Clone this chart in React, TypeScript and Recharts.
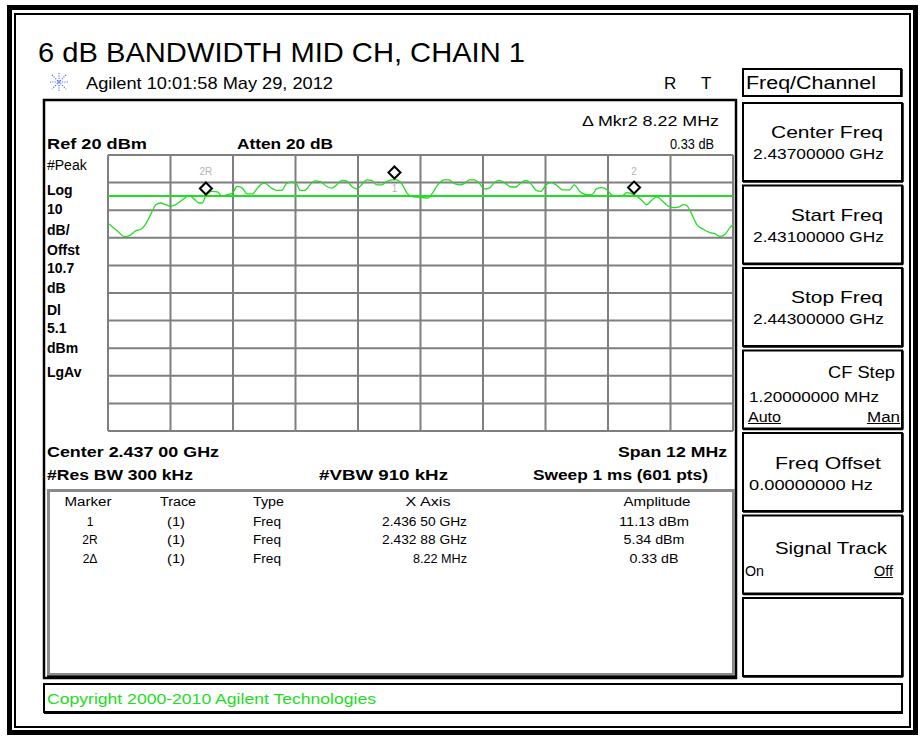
import React from 'react';
import { ComposedChart, Line, Scatter, XAxis, YAxis, ReferenceLine } from 'recharts';

// trace (frequency in GHz, amplitude in dBm)
const freqGHz = [
  2.431, 2.43118, 2.43131, 2.4314, 2.43153, 2.43163, 2.43172, 2.43182, 2.43192, 2.43201,
  2.43211, 2.4322, 2.4323, 2.43243, 2.43256, 2.43265, 2.43275, 2.43281, 2.43288, 2.433,
  2.4331, 2.43319, 2.43329, 2.43339, 2.43348, 2.43358, 2.43367, 2.43377, 2.43387, 2.43396,
  2.43401, 2.43414, 2.43424, 2.43434, 2.43443, 2.43453, 2.43462, 2.43469, 2.43478, 2.43488,
  2.43497, 2.43507, 2.4352, 2.4353, 2.43539, 2.43549, 2.43558, 2.43568, 2.43578, 2.43587,
  2.43597, 2.43606, 2.43616, 2.43626, 2.43635, 2.43645, 2.4365, 2.43659, 2.43664, 2.43674,
  2.43683, 2.43693, 2.43703, 2.43714, 2.43723, 2.43733, 2.43746, 2.43755, 2.43765, 2.43775,
  2.43784, 2.43794, 2.43803, 2.43813, 2.43823, 2.43832, 2.43842, 2.43851, 2.43861, 2.43874,
  2.43883, 2.43893, 2.43903, 2.43912, 2.43922, 2.43931, 2.43941, 2.43951, 2.4396, 2.43973,
  2.43986, 2.43995, 2.44006, 2.44019, 2.44029, 2.44038, 2.44048, 2.44058, 2.44067, 2.44077,
  2.44086, 2.44096, 2.4411, 2.44125, 2.44134, 2.44144, 2.44154, 2.44163, 2.44173, 2.44185,
  2.44195, 2.44205, 2.44211, 2.44221, 2.4423, 2.44243, 2.44256, 2.44265, 2.44275, 2.44285,
  2.44294, 2.443,
];
const traceDbm = [
  -4.7, -7.5, -9.5, -9.3, -7.5, -6.9, -5.1, -1.5, 2.0, 2.6,
  2.0, 1.4, 2.0, 3.8, 5.3, 4.1, 2.6, 2.6, 5.34, 6.8,
  6.6, 5.0, 5.6, 6.2, 8.6, 8.0, 5.9, 5.9, 8.0, 9.6,
  9.8, 8.0, 7.2, 7.2, 9.8, 10.2, 9.6, 7.2, 7.2, 9.2,
  10.6, 10.4, 8.6, 8.0, 9.2, 10.8, 10.6, 8.6, 7.7, 9.2,
  11.0, 10.8, 9.2, 9.2, 10.4, 11.0, 11.13, 10.6, 9.6, 6.2,
  5.0, 4.7, 4.6, 4.4, 6.2, 9.2, 11.0, 11.0, 9.6, 9.2,
  9.6, 11.0, 11.0, 9.8, 7.7, 8.0, 10.0, 10.8, 10.0, 8.4,
  8.4, 10.0, 10.8, 9.6, 7.2, 6.8, 9.2, 10.0, 9.2, 7.4,
  7.4, 9.2, 6.8, 5.6, 5.6, 7.7, 8.2, 7.4, 5.6, 5.0,
  5.0, 6.4, 5.67, 3.6, 2.0, 3.6, 4.8, 3.6, 1.8, 0.9,
  1.1, 2.0, 1.7, -1.5, -5.1, -6.9, -8.1, -8.5, -9.5, -8.7,
  -6.3, -5.4,
];

const xGridTicks = [2.431, 2.4322, 2.4334, 2.4346, 2.4358, 2.437, 2.4382, 2.4394, 2.4406, 2.4418, 2.443];
const yGridTicks = [20, 10, 0, -10, -20, -30, -40, -50, -60, -70, -80];
const displayLineDbm = 5.1;

const markerNames = ['1', '2R', '2'];
const markerFreqGHz = [2.4365, 2.43288, 2.4411];
const markerDbm = [11.13, 5.34, 5.67];

const tableHeaders = ['Marker', 'Trace', 'Type', 'X Axis', 'Amplitude'];
const tableMarker = ['1', '2R', '2Δ'];
const tableTrace = ['(1)', '(1)', '(1)'];
const tableType = ['Freq', 'Freq', 'Freq'];
const tableXAxis = ['2.436 50 GHz', '2.432 88 GHz', '8.22 MHz'];
const tableAmplitude = ['11.13 dBm', '5.34 dBm', '0.33 dB'];

const leftLabels = ['#Peak', 'Log', '10', 'dB/', 'Offst', '10.7', 'dB', 'Dl', '5.1', 'dBm', 'LgAv'];
const leftBaselines = [170, 195, 214, 235, 255, 273, 293, 315, 333, 353, 377];

const softkeyTitles = ['Center Freq', 'Start Freq', 'Stop Freq', 'CF Step', 'Freq Offset', 'Signal Track', ''];
const softkeyValues = ['2.43700000 GHz', '2.43100000 GHz', '2.44300000 GHz', '1.20000000 MHz', '0.00000000  Hz', '', ''];

const traceData = freqGHz.map((f, i) => ({ f, a: traceDbm[i] }));
const markerData = markerNames.map((name, i) => ({ f: markerFreqGHz[i], a: markerDbm[i], name }));

const FONT = '"Liberation Sans", Arial, sans-serif';
const GREEN = '#22dd22';
const GRID = '#7f7f7f';

// rough text widths in the screenshot, so the wide instrument font lines up
const xAxisW = [85, 85, 54];
const ampW = [70, 61, 49];

function Txt({ x, y, size = 13, w, anchor = 'start', bold = false, fill = '#000', children }: any) {
  return (
    <text
      x={x}
      y={y}
      fontSize={size}
      fontFamily={FONT}
      fontWeight={bold ? 700 : 400}
      textAnchor={anchor}
      fill={fill}
      textLength={w}
      lengthAdjust={w ? 'spacingAndGlyphs' : undefined}
    >
      {children}
    </text>
  );
}

function MarkerShape(props: any) {
  const { cx, cy, payload } = props;
  const dy = cy - 7;
  const below = payload.name === '1';
  return (
    <g>
      <polygon
        points={`${cx},${dy - 6} ${cx + 6},${dy} ${cx},${dy + 6} ${cx - 6},${dy}`}
        fill="#fff"
        stroke="#000"
        strokeWidth={2}
      />
      <text x={cx} y={below ? dy + 20 : dy - 13} textAnchor="middle" fontSize={10} fontFamily={FONT} fill="#b4b4b4">
        {payload.name}
      </text>
    </g>
  );
}

function Softkey({ i }: { i: number }) {
  const top = 103 + i * 82.5;
  const title = softkeyTitles[i];
  const value = softkeyValues[i];
  return (
    <g>
      <rect x={743} y={top} width={159} height={78} fill="#fff" stroke="#000" strokeWidth={2} />
      <line x1={903} y1={top} x2={903} y2={top + 79} stroke="#000" strokeWidth={1.5} />
      <line x1={743} y1={top + 79} x2={903} y2={top + 79} stroke="#000" strokeWidth={1.5} />
      {title === 'CF Step' && (
        <>
          <Txt x={895} y={top + 27} size={17} anchor="end" w={67}>{title}</Txt>
          <Txt x={749} y={top + 51} size={14} w={130}>{value}</Txt>
          <Txt x={748} y={top + 71} size={14} w={33}>Auto</Txt>
          <line x1={748} y1={top + 73} x2={781} y2={top + 73} stroke="#000" strokeWidth={1} />
          <Txt x={900} y={top + 71} size={14} anchor="end" w={33}>Man</Txt>
          <line x1={867} y1={top + 73} x2={900} y2={top + 73} stroke="#000" strokeWidth={1} />
        </>
      )}
      {title === 'Signal Track' && (
        <>
          <Txt x={831} y={top + 38} size={17} anchor="middle" w={112}>{title}</Txt>
          <Txt x={745} y={top + 60} size={14} w={19}>On</Txt>
          <Txt x={893} y={top + 60} size={14} anchor="end" w={19}>Off</Txt>
          <line x1={874} y1={top + 62} x2={893} y2={top + 62} stroke="#000" strokeWidth={1} />
        </>
      )}
      {title === 'Freq Offset' && (
        <>
          <Txt x={828} y={top + 36} size={17} anchor="middle" w={106}>{title}</Txt>
          <Txt x={749} y={top + 57} size={14} w={124}>{value}</Txt>
        </>
      )}
      {(title === 'Center Freq' || title === 'Start Freq' || title === 'Stop Freq') && (
        <>
          <Txt x={883} y={top + 35} size={17} anchor="end" w={title === 'Center Freq' ? 112 : 92}>{title}</Txt>
          <Txt x={753} y={top + 56} size={14} w={131}>{value}</Txt>
        </>
      )}
    </g>
  );
}

function Frame() {
  return (
    <svg width={922} height={740} style={{ position: 'absolute', left: 0, top: 0 }}>
      {/* outer double border */}
      <rect x={9.5} y={7.5} width={906} height={725} fill="none" stroke="#000" strokeWidth={5} />
      <rect x={15} y={14} width={895} height={713} fill="none" stroke="#000" strokeWidth={2} />

      <Txt x={38} y={62} size={28} w={487}>6 dB BANDWIDTH MID CH, CHAIN 1</Txt>

      {/* Agilent logo */}
      <g stroke="#3c5cff" strokeWidth={1.2} strokeDasharray="1 1.4">
        <line x1={50} y1={82} x2={68} y2={82} />
        <line x1={59} y1={73} x2={59} y2={91} />
        <line x1={52} y1={75} x2={66} y2={89} />
        <line x1={66} y1={75} x2={52} y2={89} />
      </g>
      <Txt x={86} y={89} size={17} w={247}>Agilent 10:01:58  May 29, 2012</Txt>
      <Txt x={664} y={89} size={17}>R</Txt>
      <Txt x={701} y={89} size={17}>T</Txt>

      <rect x={743} y={69} width={158} height={27} fill="#fff" stroke="#000" strokeWidth={2} />
      <line x1={902} y1={69} x2={902} y2={97} stroke="#000" strokeWidth={1.5} />
      <Txt x={746} y={89} size={18} w={130}>Freq/Channel</Txt>

      {/* instrument screen */}
      <rect x={44} y={100} width={692} height={578} fill="#fff" stroke="#000" strokeWidth={2.5} />
      <Txt x={582} y={126} size={14} w={137}>Δ Mkr2  8.22 MHz</Txt>
      <Txt x={714} y={149} size={14} anchor="end" w={44}>0.33 dB</Txt>
      <Txt x={47} y={149} size={14} bold w={100}>Ref 20 dBm</Txt>
      <Txt x={237} y={149} size={14} bold w={96}>Atten 20 dB</Txt>
      {leftLabels.map((t, i) => (
        <Txt key={t + i} x={47} y={leftBaselines[i]} size={14} bold={t !== '#Peak'}>{t}</Txt>
      ))}

      <Txt x={47} y={457} size={14} bold w={172}>Center 2.437 00 GHz</Txt>
      <Txt x={727} y={457} size={14} bold anchor="end" w={109}>Span 12 MHz</Txt>
      <Txt x={47} y={480} size={14} bold w={146}>#Res BW 300 kHz</Txt>
      <Txt x={319} y={480} size={14} bold w={129}>#VBW 910 kHz</Txt>
      <Txt x={708} y={480} size={14} bold anchor="end" w={175}>Sweep 1 ms (601 pts)</Txt>

      {/* marker table */}
      <rect x={48.5} y={490.5} width={685} height={184} fill="#fff" stroke="#8a8a8a" strokeWidth={3} />
      <line x1={47} y1={676.5} x2={735} y2={676.5} stroke="#000" strokeWidth={2} />
      <Txt x={88} y={506} size={12} anchor="middle" w={47}>{tableHeaders[0]}</Txt>
      <Txt x={178} y={506} size={12} anchor="middle" w={36}>{tableHeaders[1]}</Txt>
      <Txt x={253} y={506} size={12} w={31}>{tableHeaders[2]}</Txt>
      <Txt x={428} y={506} size={12} anchor="middle" w={45}>{tableHeaders[3]}</Txt>
      <Txt x={657} y={506} size={12} anchor="middle" w={67}>{tableHeaders[4]}</Txt>
      {tableMarker.map((m, i) => {
        const y = 525.5 + i * 18.5;
        return (
          <g key={m}>
            <Txt x={90} y={y} size={12} anchor="middle">{m}</Txt>
            <Txt x={176} y={y} size={12} anchor="middle" w={18}>{tableTrace[i]}</Txt>
            <Txt x={253} y={y} size={12} w={28}>{tableType[i]}</Txt>
            <Txt x={467} y={y} size={12} anchor="end" w={xAxisW[i]}>{tableXAxis[i]}</Txt>
            <Txt x={654} y={y} size={12} anchor="middle" w={ampW[i]}>{tableAmplitude[i]}</Txt>
          </g>
        );
      })}

      {softkeyTitles.map((_, i) => (
        <Softkey key={i} i={i} />
      ))}

      {/* copyright bar */}
      <rect x={44} y={684} width={858} height={28} fill="#fff" stroke="#000" strokeWidth={2} />
      <line x1={44} y1={713} x2={903} y2={713} stroke="#000" strokeWidth={2} />
      <Txt x={47} y={704} size={15} fill={GREEN} w={329}>Copyright 2000-2010 Agilent Technologies</Txt>
    </svg>
  );
}

export default function App() {
  return (
    <div style={{ position: 'absolute', left: 0, top: 0, width: 922, height: 740, background: '#fff' }}>
      <Frame />
      <div style={{ position: 'absolute', left: 106, top: 153 }}>
        <ComposedChart width={629} height={280} data={traceData} margin={{ top: 2, right: 2, bottom: 2, left: 2 }}>
          <XAxis
            dataKey="f"
            type="number"
            domain={[2.431, 2.443]}
            ticks={xGridTicks}
            height={0}
            tick={false}
            axisLine={false}
            tickLine={false}
            allowDataOverflow
          />
          <YAxis
            type="number"
            domain={[-80, 20]}
            ticks={yGridTicks}
            width={0}
            tick={false}
            axisLine={false}
            tickLine={false}
            allowDataOverflow
          />
          {xGridTicks.map((v) => (
            <ReferenceLine key={'x' + v} x={v} stroke={GRID} strokeWidth={2} />
          ))}
          {yGridTicks.map((v) => (
            <ReferenceLine key={'y' + v} y={v} stroke={GRID} strokeWidth={2} />
          ))}
          <ReferenceLine y={displayLineDbm} stroke={GREEN} strokeWidth={2} />
          <Line
            dataKey="a"
            type="monotone"
            stroke={GREEN}
            strokeWidth={1.3}
            dot={false}
            isAnimationActive={false}
          />
          <Scatter data={markerData} dataKey="a" shape={<MarkerShape />} isAnimationActive={false} />
        </ComposedChart>
      </div>
    </div>
  );
}
